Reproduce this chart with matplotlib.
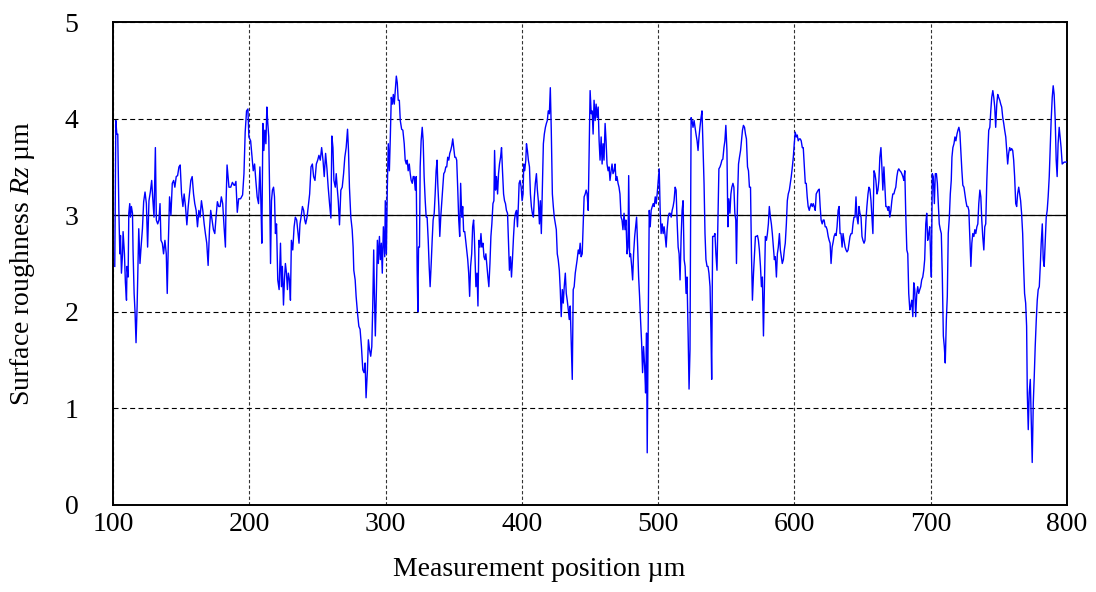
import matplotlib
matplotlib.use("Agg")
import matplotlib.pyplot as plt

plt.rcParams['font.family'] = ['Liberation Serif', 'DejaVu Serif']
plt.rcParams['mathtext.fontset'] = 'custom'
plt.rcParams['mathtext.rm'] = 'Liberation Serif'
plt.rcParams['mathtext.it'] = 'Liberation Serif:italic'

position_um = [
    101.3, 102.1, 102.8, 103.5, 104.3, 105.0, 105.5, 106.2, 107.0, 107.4, 108.4, 109.1, 109.9, 110.3,
    111.1, 111.6, 112.3, 112.8, 113.5, 114.3, 114.7, 115.5, 116.2, 116.9, 117.7, 118.9, 119.8, 120.6,
    121.6, 122.5, 123.5, 124.5, 125.4, 126.4, 127.4, 128.4, 129.1, 130.1, 131.1, 131.8, 132.8, 133.7,
    134.5, 135.2, 136.2, 137.1, 138.1, 139.1, 139.8, 140.6, 141.5, 142.5, 143.5, 144.5, 145.4, 146.4,
    147.4, 148.4, 149.3, 150.3, 151.3, 152.2, 153.2, 154.2, 155.2, 156.1, 157.1, 158.1, 159.1, 160.0,
    161.0, 162.0, 163.0, 163.9, 164.9, 165.9, 166.9, 167.8, 168.8, 169.8, 170.8, 171.7, 172.7, 173.7,
    174.7, 175.6, 176.6, 177.6, 178.6, 179.5, 180.5, 181.5, 182.5, 182.9, 183.7, 184.4, 185.1, 186.4,
    187.6, 188.8,
    189.3, 190.2, 191.2, 192.2, 193.6, 195.1, 196.1, 197.0, 198.0, 199.0, 199.7, 201.0, 201.9, 202.9,
    203.9, 204.8, 205.8, 206.8, 207.8, 208.5, 209.2, 210.0, 210.7, 211.4, 212.2, 212.9, 213.6, 214.3,
    215.1, 215.6, 216.3, 217.0, 217.8, 218.5, 219.2, 220.0, 220.9, 221.9, 222.9, 223.6, 224.3, 225.1,
    225.8, 226.5, 227.3, 228.0, 228.7, 229.5, 230.2, 230.9, 231.9, 232.9, 233.8, 234.8, 235.8, 236.5,
    237.2, 238.0, 239.0, 239.9, 240.7, 241.4, 242.4, 243.3, 244.3, 245.3, 246.3, 247.2, 248.2, 249.2,
    250.2, 251.1, 252.1, 253.1, 254.1, 255.0, 256.0, 257.0, 257.9, 258.9, 259.9, 260.6, 261.4, 262.1,
    263.1, 263.8, 264.5, 265.3, 266.2, 267.2, 268.2, 269.2, 270.1, 271.1, 272.1, 272.8, 273.5, 274.5,
    275.5, 276.2, 276.7,
    277.7, 278.4, 279.4, 280.4, 281.3, 282.3, 283.3, 284.2, 285.0, 285.7, 286.7, 287.4, 288.2, 289.1,
    289.9, 290.6, 291.3, 291.8, 292.5, 293.3, 294.0, 294.7, 295.5, 296.2, 296.9, 297.6, 298.4, 299.4,
    299.8, 300.6, 301.3, 302.0, 302.8, 303.5, 304.2, 305.0, 305.7, 306.4, 307.1, 307.9, 308.6, 309.3,
    310.1, 310.8, 311.8, 312.7, 313.7, 314.4, 315.2, 315.9, 316.6, 317.4, 318.1, 318.8, 319.6, 320.3,
    321.0, 321.8, 322.5, 323.2, 323.7, 324.2, 324.9, 325.4, 326.1, 326.9, 327.6, 328.3, 329.1, 329.8,
    330.5, 331.3, 332.0, 332.7, 333.5, 334.2, 334.9, 335.7, 336.4, 337.1, 337.8, 338.3, 339.1, 339.8,
    340.5, 341.3, 342.0, 342.7, 343.5, 344.2, 344.9, 345.6, 346.4, 347.1, 347.8, 348.6, 349.3, 350.0,
    350.8, 351.5, 352.2, 353.0, 353.7, 354.4, 355.1, 355.9, 356.6, 357.3, 358.1, 358.8, 359.5, 360.3,
    361.0, 361.7, 362.4, 363.2, 363.9, 364.6,
    365.1, 365.6, 366.3, 367.1, 367.8, 368.5, 369.3, 370.0, 370.7, 371.5, 372.2, 372.9, 373.6, 374.4,
    375.1, 375.8, 376.6, 377.3, 378.0, 378.8, 379.5, 380.0, 380.7, 381.4, 382.2, 382.9, 383.6, 384.4,
    385.1, 385.8, 386.6, 387.3, 388.0, 388.7, 389.5, 390.2, 390.9, 391.7, 392.4, 393.1, 393.9, 394.6,
    395.3, 396.1, 396.8, 397.5, 398.0, 398.7, 399.5, 400.2, 400.9, 401.4, 402.1, 402.9, 403.4, 404.1,
    404.8, 405.6, 406.3, 407.0, 407.7, 408.5, 409.2, 409.9, 410.7, 411.4, 412.1, 412.9, 413.6, 414.3,
    415.1, 415.8, 416.5, 417.3, 418.0, 418.7, 419.4, 420.2, 420.9, 421.6, 422.4, 423.1, 423.8, 424.6,
    425.3, 426.0, 426.7, 427.5, 428.2, 428.9, 429.7, 430.4, 431.1, 431.9, 432.6, 433.3, 434.1, 434.8,
    435.5, 436.2, 437.0, 437.7, 438.4, 439.2, 439.9, 440.6, 441.4, 442.1, 442.8, 443.5, 444.3, 445.0,
    445.7, 446.5, 447.2, 447.9, 448.7, 449.4, 450.1, 450.9, 451.6, 452.3,
    453.0, 453.8, 454.5, 455.2, 456.0, 456.7, 457.4, 458.2, 458.9, 459.6, 460.3, 461.1, 461.8, 462.5,
    463.3, 464.0, 464.7, 465.5, 466.2, 466.9, 467.7, 468.4, 469.1, 469.8, 470.6, 471.3, 472.0, 472.8,
    473.5, 474.2, 475.0, 475.7, 476.4, 477.2, 477.9, 478.4, 479.1, 479.8, 480.6, 481.3, 482.0, 482.8,
    483.5, 484.2, 485.0, 485.7, 486.4, 487.1, 487.9, 488.6, 489.3, 490.1, 490.8, 491.5, 492.0, 492.7,
    493.5, 494.2, 494.9, 495.7, 496.4, 497.1, 497.9, 498.6, 499.3, 500.1, 500.8, 501.5, 502.2, 503.0,
    503.7, 504.4, 505.2, 505.9, 506.6, 507.4, 508.1, 508.8, 509.6, 510.3, 511.0, 511.7, 512.5, 513.2,
    513.9, 514.7, 515.4, 516.1, 516.9, 517.6, 518.3, 519.1, 519.8, 520.5, 521.2, 522.0, 522.7, 523.4,
    524.2, 524.9, 525.6, 526.4, 527.1, 527.8, 528.6, 529.3, 530.0, 530.7, 531.5, 532.2, 532.9, 533.7,
    534.4, 535.1, 535.9, 536.6, 537.3, 538.1, 538.8, 539.3, 540.0,
    541.0, 541.7, 542.4, 543.2, 543.9, 544.6, 545.4, 546.1, 546.8, 547.5, 548.3, 549.0, 549.7, 550.5,
    551.2, 551.9, 552.7, 553.4, 554.1, 554.9, 555.6, 556.3, 557.0, 557.5, 558.3, 559.0, 559.7, 560.5,
    561.2, 561.9, 562.6, 563.4, 564.1, 564.8, 565.6, 566.3, 567.0, 567.8, 568.5, 569.2, 570.0, 570.7,
    571.4, 572.1, 572.9, 573.6, 574.3, 575.1, 575.8, 576.5, 577.3, 578.0, 578.7, 579.5, 580.2, 580.9,
    581.6, 582.4, 583.1, 583.8, 584.6, 585.3, 586.0, 586.8, 587.5, 588.2, 589.0, 589.7, 590.4, 591.1,
    591.9, 592.6, 593.3, 594.1, 594.8, 595.5, 596.3, 597.0, 597.7, 598.5, 599.2, 599.9, 600.6, 601.4,
    602.1, 602.8, 603.6, 604.3, 605.0, 605.8, 606.5, 607.2, 608.0, 608.7, 609.4, 610.1, 610.9, 611.6,
    612.3, 613.1, 613.8, 614.5, 615.3, 616.0, 616.7, 617.5, 618.2, 618.9, 619.6, 620.4, 621.1, 621.8,
    622.6, 623.3, 624.0, 624.8, 625.5, 626.2, 626.9,
    627.7, 628.4, 629.1, 629.9, 630.6, 631.3, 632.1, 632.8, 633.5, 634.2, 635.0, 635.7, 636.4, 637.2,
    637.9, 638.6, 639.4, 640.1, 640.8, 641.6, 642.3, 643.0, 643.7, 644.5, 645.2, 645.9, 646.7, 647.4,
    648.1, 648.9, 649.6, 650.3, 651.1, 651.8, 652.5, 653.2, 654.0, 654.7, 655.4, 656.2, 656.9, 657.6,
    658.4, 659.1, 659.8, 660.6, 661.3, 662.0, 662.7, 663.5, 664.2, 664.9, 665.7, 666.4, 667.1, 667.9,
    668.6, 669.3, 670.0, 670.8, 671.5, 672.2, 673.0, 673.7, 674.4, 675.2, 675.9, 676.6, 677.4, 678.1,
    678.8, 679.6, 680.3, 681.0, 681.7, 682.5, 683.2, 683.9, 684.7, 685.4, 686.1, 686.9, 687.6, 688.3,
    689.0, 689.8, 690.5, 691.2, 692.0, 692.7, 693.4, 694.2, 694.9, 695.6, 696.4, 697.1, 697.8, 698.6,
    699.3, 700.0, 700.5, 701.2, 701.9, 702.7, 703.4, 704.2, 704.9, 705.6, 706.3, 707.1, 707.8, 708.5,
    709.3, 710.0, 710.7, 711.5, 712.2, 712.9, 713.7, 714.4, 715.1,
    715.6, 716.3, 717.1, 717.8, 718.5, 719.3, 720.0, 720.7, 721.4, 722.2, 722.9, 723.6, 724.4, 725.1,
    725.8, 726.6, 727.3, 728.0, 728.7, 729.5, 730.2, 730.9, 731.7, 732.4, 733.1, 733.9, 734.6, 735.3,
    736.1, 736.8, 737.5, 738.2, 739.0, 739.7, 740.4, 741.2, 741.9, 742.6, 743.4, 744.1, 744.8, 745.6,
    746.3, 747.0, 747.7, 748.5, 749.2, 749.9, 750.7, 751.4, 752.1, 752.9, 753.6, 754.3, 755.1, 755.8,
    756.5, 757.2, 758.0, 758.7, 759.4, 760.2, 760.9, 761.6, 762.4, 763.1, 763.8, 764.6, 765.3, 766.0,
    766.7, 767.5, 768.2, 768.9, 769.7, 770.4, 770.9, 771.6, 772.3, 773.1, 773.8, 774.5, 775.3, 776.0,
    776.7, 777.5, 778.2, 778.9, 779.7, 780.4, 781.1, 781.9, 782.6, 783.3, 784.0, 784.8, 785.5, 786.2,
    787.0, 787.7, 788.4, 789.2, 789.9, 790.6, 791.4, 792.1, 792.8, 793.5, 794.3, 795.0, 795.7, 796.5,
    798.0, 799.5,
]

rz_um = [
    2.47, 3.98, 3.84, 3.84, 3.05, 2.60, 2.79, 2.40, 2.60, 2.83, 2.60, 2.30, 2.12, 2.47,
    2.36, 3.02, 3.12, 2.98, 3.09, 3.02, 2.64, 2.19, 1.99, 1.68, 2.06, 2.86, 2.50, 2.67,
    2.86, 3.14, 3.24, 3.12, 2.67, 3.15, 3.24, 3.36, 3.19, 2.98, 3.70, 2.95, 2.91, 2.95,
    3.12, 2.74, 2.71, 2.60, 2.74, 2.60, 2.19, 2.71, 3.19, 3.00, 3.33, 3.36, 3.29, 3.40,
    3.41, 3.50, 3.52, 3.22, 3.09, 3.22, 3.09, 2.90, 3.09, 3.22, 3.36, 3.40, 3.22, 3.12,
    3.05, 2.88, 3.05, 2.98, 3.15, 3.05, 2.91, 2.81, 2.71, 2.48, 2.85, 3.05, 2.95, 2.85,
    2.81, 2.98, 3.14, 3.09, 3.09, 3.19, 3.12, 2.88, 2.67, 3.09, 3.52, 3.40, 3.29, 3.29,
    3.34, 3.31,
    3.31, 3.35, 3.03, 3.17, 3.17, 3.21, 3.43, 3.86, 4.08, 4.10, 3.81, 3.77, 3.62, 3.46,
    3.53, 3.36, 3.19, 3.12, 3.50, 3.15, 2.71, 3.95, 3.67, 3.88, 3.74, 4.12, 3.95, 3.81,
    3.09, 2.50, 3.15, 3.26, 3.29, 3.19, 2.81, 2.91, 2.33, 2.23, 2.71, 2.26, 2.47, 2.07,
    2.33, 2.50, 2.40, 2.23, 2.40, 2.33, 2.12, 2.74, 2.64, 2.88, 2.98, 2.95, 2.81, 2.71,
    2.91, 2.98, 3.09, 3.05, 2.95, 2.91, 2.98, 3.09, 3.22, 3.50, 3.53, 3.40, 3.36, 3.53,
    3.57, 3.62, 3.57, 3.70, 3.57, 3.40, 3.64, 3.48, 3.29, 3.12, 2.97, 3.82, 3.70, 3.36,
    3.29, 3.43, 3.29, 3.15, 2.90, 3.26, 3.29, 3.43, 3.60, 3.70, 3.89, 3.67, 3.29, 2.98,
    2.85, 2.67, 2.43,
    2.33, 2.16, 1.99, 1.85, 1.82, 1.64, 1.40, 1.37, 1.47, 1.11, 1.40, 1.71, 1.61, 1.54,
    1.64, 2.06, 2.64, 2.19, 1.75, 2.23, 2.74, 2.50, 2.78, 2.54, 2.71, 2.40, 2.88, 2.57,
    3.15, 2.60, 3.29, 3.74, 3.46, 3.81, 4.22, 4.15, 4.25, 4.15, 4.29, 4.44, 4.37, 4.19,
    4.19, 3.98, 3.89, 3.88, 3.74, 3.57, 3.53, 3.57, 3.46, 3.53, 3.43, 3.36, 3.33, 3.40,
    3.40, 3.26, 3.40, 2.43, 2.00, 2.67, 2.67, 3.50, 3.77, 3.91, 3.77, 3.40, 3.15, 2.98,
    2.98, 2.74, 2.47, 2.26, 2.50, 2.74, 2.95, 3.02, 3.22, 3.46, 3.57, 3.33, 3.09, 2.78,
    2.98, 3.15, 3.29, 3.43, 3.45, 3.50, 3.50, 3.60, 3.57, 3.64, 3.67, 3.72, 3.79, 3.70,
    3.60, 3.60, 3.57, 3.26, 2.95, 2.78, 3.33, 2.98, 3.09, 2.83, 2.83, 2.74, 2.64, 2.54,
    2.40, 2.16, 2.47, 2.60, 2.88, 2.95,
    2.81, 2.57, 2.26, 2.40, 2.06, 2.74, 2.67, 2.81, 2.67, 2.71, 2.57, 2.54, 2.60, 2.47,
    2.36, 2.26, 2.50, 2.78, 2.91, 3.12, 3.15, 3.67, 3.26, 3.40, 3.22, 3.43, 3.53, 3.60,
    3.70, 3.46, 3.22, 3.15, 3.12, 3.05, 3.02, 2.74, 2.43, 2.57, 2.36, 2.54, 2.78, 2.95,
    3.02, 3.05, 2.88, 3.12, 3.33, 3.36, 3.29, 3.15, 3.22, 3.53, 3.46, 3.57, 3.74, 3.67,
    3.57, 3.50, 3.22, 3.09, 3.02, 2.98, 3.19, 3.33, 3.43, 3.26, 3.15, 2.91, 3.15, 2.81,
    3.33, 3.74, 3.84, 3.91, 3.95, 3.98, 4.08, 4.05, 4.32, 3.88, 3.22, 3.09, 2.98, 2.91,
    2.85, 2.60, 2.54, 2.43, 2.23, 1.95, 2.23, 2.09, 2.26, 2.40, 2.19, 2.12, 2.02, 1.92,
    2.06, 1.71, 1.30, 2.23, 2.26, 2.40, 2.47, 2.54, 2.64, 2.60, 2.71, 2.57, 2.60, 2.91,
    3.19, 3.22, 3.26, 3.22, 3.05, 3.64, 4.29, 4.05, 4.08, 3.84,
    4.19, 3.98, 4.15, 4.01, 4.12, 3.77, 3.57, 3.81, 3.53, 3.74, 3.57, 3.95, 3.77, 3.53,
    3.46, 3.50, 3.36, 3.46, 3.53, 3.43, 3.46, 3.53, 3.36, 3.40, 3.33, 3.29, 3.22, 2.98,
    2.95, 2.85, 3.02, 2.85, 2.95, 2.60, 2.67, 3.41, 2.57, 2.60, 2.47, 2.33, 2.60, 2.78,
    2.88, 2.98, 2.67, 2.36, 2.16, 1.92, 1.68, 1.37, 1.64, 1.44, 1.16, 1.78, 0.54, 1.82,
    3.05, 2.88, 3.05, 3.09, 3.12, 3.09, 3.19, 3.12, 3.22, 3.36, 3.48, 3.05, 2.81, 2.91,
    2.81, 2.88, 2.78, 2.67, 2.85, 2.98, 3.02, 3.02, 2.98, 3.05, 3.09, 3.15, 3.29, 3.26,
    2.95, 2.67, 2.60, 2.33, 2.78, 3.05, 3.15, 2.54, 2.47, 2.19, 2.36, 1.78, 1.20, 1.61,
    4.01, 3.98, 3.91, 3.98, 3.91, 3.84, 3.77, 3.67, 3.81, 3.91, 4.01, 4.08, 3.74, 3.33,
    2.81, 2.54, 2.47, 2.47, 2.40, 2.26, 1.78, 1.30, 2.78,
    2.78, 2.81, 2.60, 2.43, 2.95, 3.48, 3.50, 3.53, 3.57, 3.58, 3.70, 3.77, 3.93, 3.67,
    2.88, 3.17, 3.02, 3.22, 3.29, 3.33, 3.29, 3.02, 2.95, 2.50, 3.19, 3.53, 3.60, 3.67,
    3.77, 3.88, 3.93, 3.91, 3.84, 3.79, 3.50, 3.46, 3.29, 3.29, 2.60, 2.12, 2.40, 2.60,
    2.78, 2.78, 2.79, 2.74, 2.64, 2.47, 2.26, 2.36, 1.75, 2.26, 2.78, 2.74, 2.81, 2.91,
    3.09, 2.98, 2.91, 2.81, 2.67, 2.54, 2.57, 2.36, 2.60, 2.67, 2.81, 2.64, 2.57, 2.50,
    2.54, 2.64, 2.71, 2.91, 3.15, 3.22, 3.26, 3.33, 3.40, 3.50, 3.60, 3.74, 3.86, 3.81,
    3.83, 3.77, 3.79, 3.79, 3.77, 3.70, 3.70, 3.53, 3.33, 3.33, 3.19, 3.09, 3.05, 3.09,
    3.12, 3.09, 3.12, 3.09, 3.05, 3.22, 3.24, 3.26, 3.27, 3.09, 2.95, 2.91, 2.95, 2.95,
    2.88, 2.88, 2.85, 2.78, 2.74, 2.71, 2.50,
    2.67, 2.72, 2.78, 2.81, 2.79, 2.88, 3.05, 3.09, 2.81, 2.81, 2.67, 2.81, 2.74, 2.67,
    2.64, 2.62, 2.64, 2.71, 2.78, 2.81, 2.81, 2.91, 2.98, 2.98, 3.19, 2.98, 2.91, 3.09,
    3.02, 2.98, 2.78, 2.74, 2.71, 2.74, 2.95, 3.09, 3.22, 3.29, 3.27, 3.15, 2.98, 2.81,
    3.46, 3.43, 3.36, 3.22, 3.26, 3.36, 3.60, 3.70, 3.50, 3.26, 3.50, 3.29, 3.09, 3.09,
    3.05, 3.09, 2.98, 3.05, 3.15, 3.22, 3.22, 3.26, 3.29, 3.40, 3.46, 3.48, 3.46, 3.45,
    3.43, 3.40, 3.36, 3.46, 3.02, 2.64, 2.60, 2.19, 2.02, 2.06, 2.12, 1.95, 2.30, 2.23,
    1.95, 2.19, 2.26, 2.19, 2.23, 2.26, 2.33, 2.36, 2.43, 2.54, 2.91, 3.02, 2.74, 2.81,
    2.88, 2.54, 2.36, 3.43, 3.40, 3.12, 3.43, 3.43, 3.33, 3.12, 2.91, 2.85, 2.81, 2.40,
    1.75, 1.64, 1.47, 1.92, 2.16, 2.81, 2.98, 3.22, 3.36,
    3.60, 3.70, 3.74, 3.81, 3.77, 3.84, 3.88, 3.91, 3.86, 3.64, 3.46, 3.31, 3.29, 3.22,
    3.15, 3.09, 3.09, 3.05, 2.78, 2.47, 2.71, 2.81, 2.78, 2.85, 2.81, 2.88, 2.91, 3.12,
    3.26, 3.19, 2.95, 2.78, 2.64, 2.88, 2.91, 3.36, 3.64, 3.88, 3.91, 4.08, 4.22, 4.29,
    4.22, 4.12, 3.91, 4.15, 4.25, 4.22, 4.19, 4.15, 4.12, 4.01, 3.95, 3.88, 3.81, 3.67,
    3.53, 3.64, 3.70, 3.67, 3.69, 3.67, 3.57, 3.40, 3.12, 3.09, 3.22, 3.29, 3.22, 3.15,
    3.02, 2.81, 2.47, 2.19, 2.09, 1.85, 1.16, 0.78, 1.16, 1.30, 0.89, 0.44, 1.06, 1.33,
    1.64, 1.92, 2.12, 2.23, 2.26, 2.47, 2.71, 2.91, 2.54, 2.47, 2.71, 2.98, 3.05, 3.19,
    3.40, 3.70, 3.98, 4.22, 4.34, 4.25, 3.98, 3.57, 3.40, 3.74, 3.91, 3.81, 3.70, 3.53,
    3.55, 3.55,
]

x_ticks = [100, 200, 300, 400, 500, 600, 700, 800]
y_ticks = [0, 1, 2, 3, 4, 5]
reference_rz = 3.0

fig, ax = plt.subplots(figsize=(10.96, 5.92), dpi=100)
fig.subplots_adjust(left=0.1031, right=0.9735, bottom=0.147, top=0.9628)

ax.plot(position_um, rz_um, color='#0000ff', lw=1.0, zorder=3)
ax.axhline(reference_rz, color='black', lw=0.9, zorder=2)

ax.set_xlim(100, 800)
ax.set_ylim(0, 5)
ax.set_xticks(x_ticks)
ax.set_yticks(y_ticks)

ax.xaxis.grid(True, color='#333333', lw=0.8, linestyle=(0, (3.0, 2.0)))
ax.yaxis.grid(True, color='black', lw=0.8, linestyle=(0, (4.5, 3.0)))
ax.set_axisbelow(True)

for side in ['left', 'right', 'top', 'bottom']:
    ax.spines[side].set_linewidth(1.4)

ax.tick_params(axis='both', length=0, labelsize=20)
ax.tick_params(axis='y', pad=25)
ax.tick_params(axis='x', pad=5)

ax.set_xlabel('Measurement position µm', fontsize=20)
ax.set_ylabel('Surface roughness $\\mathit{Rz}$ µm', fontsize=20)
ax.xaxis.set_label_coords(0.447, -0.108)
ax.yaxis.set_label_coords(-0.080, 0.5)

fig.savefig('out.png', dpi=100)
